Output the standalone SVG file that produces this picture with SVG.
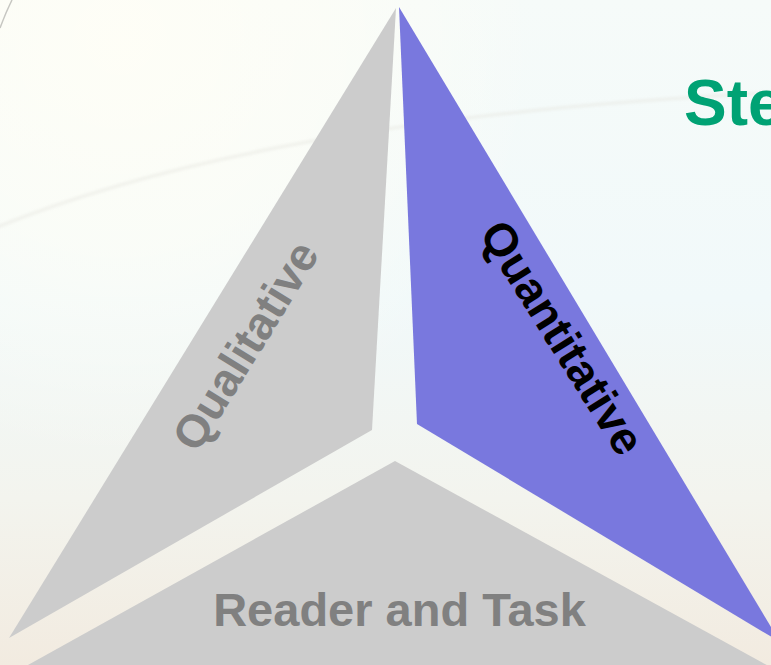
<svg xmlns="http://www.w3.org/2000/svg" width="771" height="665" viewBox="0 0 771 665">
  <defs>
    <linearGradient id="bg" x1="0" y1="0" x2="0" y2="1">
      <stop offset="0" stop-color="#F6FBF9"/>
      <stop offset="0.45" stop-color="#F1F9FA"/>
      <stop offset="0.75" stop-color="#F3F4EE"/>
      <stop offset="1" stop-color="#F2EBE0"/>
    </linearGradient>
    <radialGradient id="glow" cx="120" cy="40" r="420" gradientUnits="userSpaceOnUse">
      <stop offset="0" stop-color="#FFFEF6" stop-opacity="0.9"/>
      <stop offset="0.5" stop-color="#FFFEF6" stop-opacity="0.6"/>
      <stop offset="1" stop-color="#FFFEF6" stop-opacity="0"/>
    </radialGradient>
    <filter id="soft" x="-5%" y="-50%" width="110%" height="200%">
      <feGaussianBlur stdDeviation="1.5"/>
    </filter>
    <style>
      .seg-gray { fill: #CCCCCC; }
      .seg-blue { fill: #7978DE; }
      .lbl { font-family: "Liberation Sans", Arial, sans-serif; font-weight: bold; font-size: 46px; text-anchor: middle; }
      .lbl-gray { fill: #808080; }
      .lbl-dark { fill: #000000; }
      .title { font-family: "Liberation Sans", Arial, sans-serif; font-weight: bold; font-size: 64px; fill: #00A274; }
    </style>
  </defs>

  <!-- backdrop -->
  <rect width="771" height="665" fill="url(#bg)"/>
  <rect width="771" height="665" fill="url(#glow)"/>
  <path d="M -10 230 Q 260 118 771 93" fill="none" stroke="#E6E6E0" stroke-width="3" opacity="0.55" filter="url(#soft)"/>
  <path d="M 0 28 Q 6 12 12 0" fill="none" stroke="#B8B8B4" stroke-width="1.5" opacity="0.8"/>

  <!-- title (runs past the right edge) -->
  <text class="title" x="684" y="125">Ste</text>

  <!-- three segments of the triangle -->
  <g id="qualitative">
    <polygon class="seg-gray" points="396,8 372,430 9,638"/>
    <text class="lbl lbl-gray" transform="translate(259,354) rotate(-58.5)">Qualitative</text>
  </g>
  <g id="quantitative">
    <polygon class="seg-blue" points="399,7 417,424 780,642"/>
    <text class="lbl lbl-dark" transform="translate(549,346) rotate(58)">Quantitative</text>
  </g>
  <g id="reader-task">
    <polygon class="seg-gray" points="395,461 10,675 785,675"/>
    <text class="lbl lbl-gray" x="399.5" y="626" style="font-size:47px">Reader and Task</text>
  </g>

  <g id="connectors"/>
</svg>
